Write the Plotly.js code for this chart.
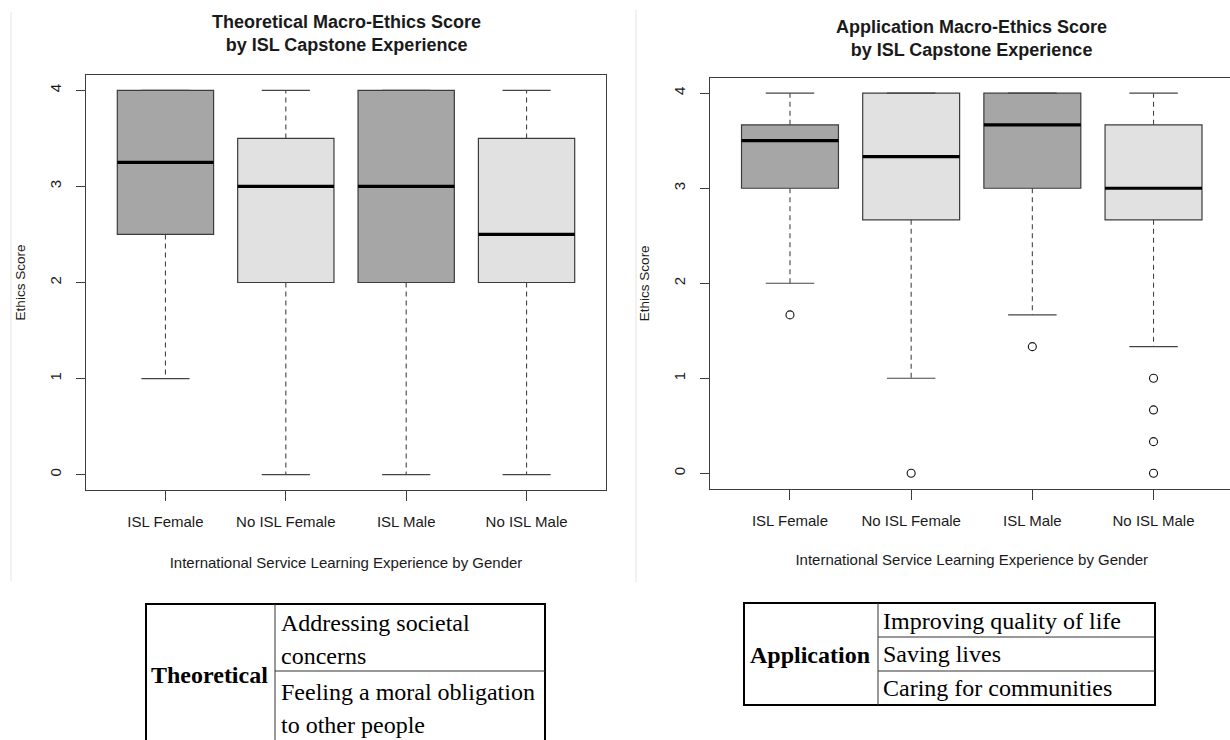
<!DOCTYPE html>
<html>
<head>
<meta charset="utf-8">
<script src="https://cdn.plot.ly/plotly-3.0.1.min.js"></script>
<style>
html,body{margin:0;padding:0;overflow:hidden;background:#fff;}
#chart{width:1234px;height:740px;}
</style>
</head>
<body>
<div id="chart"></div>
<script>
// ---------- data ----------
const categories = ["ISL Female", "No ISL Female", "ISL Male", "No ISL Male"];
const positions = [1, 2, 3, 4];
const isISL = [true, false, true, false];
const yTicks = [0, 1, 2, 3, 4];

// Theoretical macro-ethics score (box statistics)
const theoLower  = [1, 0, 0, 0];
const theoQ1     = [2.5, 2, 2, 2];
const theoMedian = [3.25, 3, 3, 2.5];
const theoQ3     = [4, 3.5, 4, 3.5];
const theoUpper  = [4, 4, 4, 4];
const theoOutliers = [[], [], [], []];

// Application macro-ethics score (box statistics)
const appLower  = [2, 1, 1.667, 1.333];
const appQ1     = [3, 2.667, 3, 2.667];
const appMedian = [3.5, 3.333, 3.667, 3];
const appQ3     = [3.667, 4, 4, 3.667];
const appUpper  = [4, 4, 4, 4];
const appOutliers = [[1.667], [0], [1.333], [1, 0.667, 0.333, 0]];

const theoTitle = ["Theoretical Macro-Ethics Score", "by ISL Capstone Experience"];
const appTitle  = ["Application Macro-Ethics Score", "by ISL Capstone Experience"];
const xTitle = "International Service Learning Experience by Gender";
const yTitle = "Ethics Score";

const theoTableLabel = "Theoretical";
const theoTableRows = [["Addressing societal", "concerns"], ["Feeling a moral obligation", "to other people"]];
const appTableLabel = "Application";
const appTableRows = [["Improving quality of life"], ["Saving lives"], ["Caring for communities"]];

// ---------- styles ----------
const W = 1234, H = 740;
const px = x => x / W;
const py = y => 1 - y / H;
const SANS = "Liberation Sans, Arial, Helvetica, sans-serif";
const SERIF = "Liberation Serif, Times New Roman, serif";
const DARK = "#a6a6a6", LIGHT = "#e1e1e1", EDGE = "#3c3c3c", INK = "#1a1a1a";
const BOXW = 0.8, CAPW = 0.4;

function panel(xa, ya, lower, q1, med, q3, upper, outliers) {
  const tr = [];
  positions.forEach((p, i) => {
    tr.push({
      type: "box", xaxis: xa, yaxis: ya,
      x: [p], q1: [q1[i]], median: [med[i]], q3: [q3[i]],
      lowerfence: [q1[i]], upperfence: [q3[i]],
      width: BOXW, whiskerwidth: 0, boxpoints: false,
      fillcolor: isISL[i] ? DARK : LIGHT,
      line: {color: EDGE, width: 1.2},
      hoverinfo: "skip", showlegend: false
    });
  });
  const wx = [], wy = [], cx = [], cy = [], mx = [], my = [], ox = [], oy = [];
  positions.forEach((p, i) => {
    wx.push(p, p, null, p, p, null);
    wy.push(q3[i], upper[i], null, q1[i], lower[i], null);
    cx.push(p - CAPW / 2, p + CAPW / 2, null, p - CAPW / 2, p + CAPW / 2, null);
    cy.push(upper[i], upper[i], null, lower[i], lower[i], null);
    mx.push(p - BOXW / 2, p + BOXW / 2, null);
    my.push(med[i], med[i], null);
    outliers[i].forEach(v => { ox.push(p); oy.push(v); });
  });
  tr.push({type: "scatter", mode: "lines", xaxis: xa, yaxis: ya, x: wx, y: wy,
    line: {color: "#444", width: 1.1, dash: "5px,4px"}, hoverinfo: "skip", showlegend: false});
  tr.push({type: "scatter", mode: "lines", xaxis: xa, yaxis: ya, x: cx, y: cy,
    line: {color: "#444", width: 1.2}, hoverinfo: "skip", showlegend: false});
  tr.push({type: "scatter", mode: "lines", xaxis: xa, yaxis: ya, x: mx, y: my,
    line: {color: "#000", width: 3.2}, hoverinfo: "skip", showlegend: false});
  tr.push({type: "scatter", mode: "markers", xaxis: xa, yaxis: ya, x: ox, y: oy,
    marker: {symbol: "circle-open", size: 8, color: "#111", line: {width: 1.1, color: "#111"}},
    hoverinfo: "skip", showlegend: false});
  return tr;
}

const data = [].concat(
  panel("x", "y", theoLower, theoQ1, theoMedian, theoQ3, theoUpper, theoOutliers),
  panel("x2", "y2", appLower, appQ1, appMedian, appQ3, appUpper, appOutliers)
);

function xaxis(domain, anchor, standoff) {
  return {
    domain: domain, anchor: anchor, range: [0.34, 4.66],
    tickvals: positions, ticktext: categories,
    ticks: "outside", ticklen: 10, tickcolor: EDGE, tickwidth: 1,
    ticklabelstandoff: 8,
    showline: true, mirror: true, linecolor: EDGE, linewidth: 1,
    showgrid: false, zeroline: false, fixedrange: true,
    tickfont: {family: SANS, size: 15, color: INK},
    title: {text: xTitle, font: {family: SANS, size: 15, color: INK}, standoff: standoff}
  };
}
function yaxis(domain, anchor) {
  return {
    domain: domain, anchor: anchor, range: [-0.16, 4.16],
    tickvals: yTicks, ticktext: yTicks.map(String),
    ticks: "outside", ticklen: 9, tickcolor: EDGE, tickwidth: 1, tickangle: -90,
    ticklabelstandoff: 9,
    showline: true, mirror: true, linecolor: EDGE, linewidth: 1,
    showgrid: false, zeroline: false, fixedrange: true,
    tickfont: {family: SANS, size: 15, color: INK},
    title: {text: yTitle, font: {family: SANS, size: 13.5, color: INK}, standoff: 18}
  };
}

const shapes = [
  // screenshot separators
  {type: "line", xref: "paper", yref: "paper", x0: px(11), x1: px(11), y0: py(12), y1: py(581), line: {color: "#e4e4e4", width: 1}},
  {type: "line", xref: "paper", yref: "paper", x0: px(636), x1: px(636), y0: py(10), y1: py(582), line: {color: "#e4e4e4", width: 1}},
  // theoretical table
  {type: "rect", xref: "paper", yref: "paper", x0: px(146), x1: px(545), y0: py(604), y1: py(748), line: {color: "#000", width: 2}},
  {type: "line", xref: "paper", yref: "paper", x0: px(275), x1: px(275), y0: py(604), y1: py(748), line: {color: "#333", width: 1}},
  {type: "line", xref: "paper", yref: "paper", x0: px(275), x1: px(545), y0: py(671), y1: py(671), line: {color: "#333", width: 1}},
  // application table
  {type: "rect", xref: "paper", yref: "paper", x0: px(744), x1: px(1155), y0: py(603), y1: py(705), line: {color: "#000", width: 2}},
  {type: "line", xref: "paper", yref: "paper", x0: px(878), x1: px(878), y0: py(603), y1: py(705), line: {color: "#333", width: 1}},
  {type: "line", xref: "paper", yref: "paper", x0: px(878), x1: px(1155), y0: py(637), y1: py(637), line: {color: "#333", width: 1}},
  {type: "line", xref: "paper", yref: "paper", x0: px(878), x1: px(1155), y0: py(671), y1: py(671), line: {color: "#333", width: 1}}
];

const annotations = [];
function title(lines, cx, cy) {
  annotations.push({xref: "paper", yref: "paper", x: px(cx), y: py(cy), xanchor: "center", yanchor: "middle",
    showarrow: false, text: lines.map(l => "<b>" + l + "</b>").join("<br>"),
    font: {family: SANS, size: 18, color: INK}});
}
title(theoTitle, 346, 34);
title(appTitle, 971, 38);

function cellText(t, x, y, anchor, bold) {
  annotations.push({xref: "paper", yref: "paper", x: px(x), y: py(y), xanchor: anchor, yanchor: "middle",
    showarrow: false, text: bold ? "<b>" + t + "</b>" : t,
    font: {family: SERIF, size: 24, color: "#000"}});
}
cellText(theoTableLabel, 209.5, 675, "center", true);
const theoLineY = [[623, 656], [692, 725]];
theoTableRows.forEach((row, r) => row.forEach((t, k) => cellText(t, 279, theoLineY[r][k], "left", false)));
cellText(appTableLabel, 810, 655, "center", true);
const appLineY = [[621], [654], [688]];
appTableRows.forEach((row, r) => row.forEach((t, k) => cellText(t, 881, appLineY[r][k], "left", false)));

const layout = {
  width: W, height: H,
  margin: {l: 0, r: 0, t: 0, b: 0, pad: 0},
  paper_bgcolor: "#fff", plot_bgcolor: "#fff",
  showlegend: false,
  xaxis: xaxis([px(86), px(606)], "y", 28),
  yaxis: yaxis([py(490), py(75)], "x"),
  xaxis2: xaxis([px(710), px(1233.5)], "y2", 26),
  yaxis2: yaxis([py(488.5), py(78)], "x2"),
  shapes: shapes,
  annotations: annotations
};

Plotly.newPlot("chart", data, layout, {staticPlot: true, displayModeBar: false});
</script>
</body>
</html>
